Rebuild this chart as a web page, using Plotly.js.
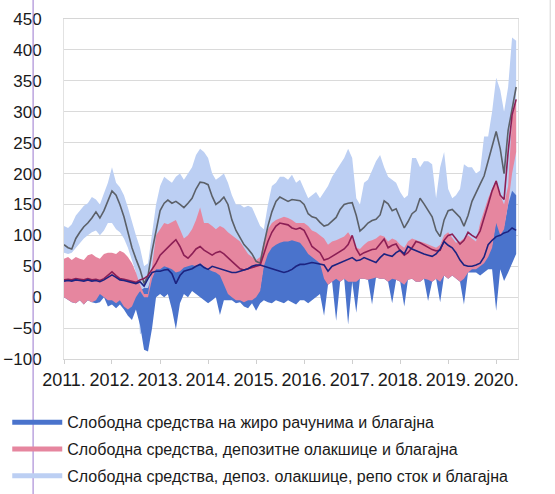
<!DOCTYPE html>
<html>
<head>
<meta charset="utf-8">
<script src="https://cdn.plot.ly/plotly-3.0.1.min.js"></script>
<style>html,body{margin:0;padding:0;background:#fff;}#chart{width:555px;height:494px;}</style>
</head>
<body>
<div id="chart"></div>
<script>
// Monthly observation dates (Jan 2011 – Jun 2020)
const months = [
'2011-01-01','2011-02-01','2011-03-01','2011-04-01','2011-05-01','2011-06-01','2011-07-01','2011-08-01','2011-09-01','2011-10-01','2011-11-01','2011-12-01',
'2012-01-01','2012-02-01','2012-03-01','2012-04-01','2012-05-01','2012-06-01','2012-07-01','2012-08-01','2012-09-01','2012-10-01','2012-11-01','2012-12-01',
'2013-01-01','2013-02-01','2013-03-01','2013-04-01','2013-05-01','2013-06-01','2013-07-01','2013-08-01','2013-09-01','2013-10-01','2013-11-01','2013-12-01',
'2014-01-01','2014-02-01','2014-03-01','2014-04-01','2014-05-01','2014-06-01','2014-07-01','2014-08-01','2014-09-01','2014-10-01','2014-11-01','2014-12-01',
'2015-01-01','2015-02-01','2015-03-01','2015-04-01','2015-05-01','2015-06-01','2015-07-01','2015-08-01','2015-09-01','2015-10-01','2015-11-01','2015-12-01',
'2016-01-01','2016-02-01','2016-03-01','2016-04-01','2016-05-01','2016-06-01','2016-07-01','2016-08-01','2016-09-01','2016-10-01','2016-11-01','2016-12-01',
'2017-01-01','2017-02-01','2017-03-01','2017-04-01','2017-05-01','2017-06-01','2017-07-01','2017-08-01','2017-09-01','2017-10-01','2017-11-01','2017-12-01',
'2018-01-01','2018-02-01','2018-03-01','2018-04-01','2018-05-01','2018-06-01','2018-07-01','2018-08-01','2018-09-01','2018-10-01','2018-11-01','2018-12-01',
'2019-01-01','2019-02-01','2019-03-01','2019-04-01','2019-05-01','2019-06-01','2019-07-01','2019-08-01','2019-09-01','2019-10-01','2019-11-01','2019-12-01',
'2020-01-01','2020-02-01','2020-03-01','2020-04-01','2020-05-01','2020-06-01'];

// Series 3 (free funds, deposit facilities, repo stock and cash) – daily range, upper / lower
const lbHigh = [
115,112,118,132,140,148,152,162,158,150,168,185,
210,185,178,165,145,120,100,80,50,55,105,150,
180,195,190,185,195,200,190,200,210,230,240,235,
225,200,190,195,200,185,165,150,150,145,148,145,
130,115,110,150,180,185,195,195,190,198,185,190,
175,160,165,170,160,170,180,195,205,215,225,240,
225,160,150,185,190,205,220,230,210,195,190,185,
170,160,165,225,225,210,220,220,215,160,210,235,
175,160,165,175,215,210,210,200,205,260,260,300,
355,335,300,340,420,415];
const lbLow = [
72,70,72,80,88,95,100,105,108,100,108,120,
120,110,105,95,80,60,40,-60,-55,-40,0,50,
100,110,110,112,115,100,90,95,105,120,135,115,
115,110,105,110,105,100,95,90,85,75,65,60,
55,60,80,100,110,115,118,120,118,115,110,110,
110,105,98,95,90,85,75,80,82,85,88,95,
85,70,68,75,80,82,85,90,88,80,85,82,
75,70,80,85,82,80,78,75,72,70,75,90,
95,85,78,80,85,90,85,80,110,130,150,165,
180,155,140,140,160,150];

// Series 2 (free funds, deposit facilities and cash) – daily range
const pkHigh = [
62,65,60,65,62,60,68,70,65,62,70,72,
72,70,75,72,65,55,40,20,5,5,50,100,
110,120,118,122,125,110,95,100,110,125,145,120,
120,115,110,115,112,105,100,95,90,80,70,65,
60,65,90,110,120,125,128,130,128,125,120,120,
120,115,108,105,100,95,85,90,92,95,98,105,
95,80,78,85,90,92,95,100,98,90,95,92,
85,80,90,95,92,90,88,85,82,80,85,100,
105,95,88,90,95,100,95,90,120,140,160,175,
190,165,150,180,290,320];
const pkLow = [
0,-5,-8,-10,-5,-12,-5,-8,-5,5,0,-5,
-5,-10,-5,-15,-20,-15,0,10,0,0,30,45,
45,50,48,45,40,42,48,50,52,50,55,50,
45,42,40,35,20,5,0,-5,-5,-8,-5,-5,
0,10,50,70,80,85,88,90,90,92,90,88,
80,70,65,60,55,30,20,25,30,25,30,25,
25,25,30,30,28,30,32,30,30,25,30,28,
25,20,28,30,25,25,30,28,25,30,25,35,
30,35,30,25,30,40,45,45,50,55,65,80,
120,100,110,150,200,235];

// Series 1 (free funds on giro accounts and cash) – daily range
const blHigh = [
5,0,-3,-5,0,-7,0,-3,0,10,5,0,
0,-5,0,-10,-15,-10,5,10,15,15,35,50,
50,55,53,50,45,47,53,55,57,55,60,55,
50,47,45,40,25,10,5,0,0,-3,0,0,
5,15,55,75,85,90,93,95,95,97,95,93,
85,75,70,65,60,35,25,30,35,30,35,30,
30,30,35,35,33,35,37,35,35,30,35,33,
30,25,33,35,30,30,35,33,30,35,30,40,
35,40,35,30,35,45,50,50,55,60,70,85,
125,105,115,150,172,165];
const blLow = [
0,-5,-8,-10,-5,-12,-5,-8,-10,-8,0,-15,
-12,-18,-12,-20,-30,-37,-20,-45,-85,-88,-50,0,
5,0,5,-20,-52,-10,5,0,10,5,0,-5,
-10,-5,0,-29,-5,-5,-5,-10,-8,-15,-18,-10,
-22,-10,-5,-8,-10,-5,-8,-10,-5,-8,-12,-5,
-5,-10,-5,0,5,-30,20,25,-38,25,30,-44,
25,-25,30,30,28,-12,32,30,30,25,-10,28,
25,-15,28,30,25,25,30,-6,25,30,-8,35,
30,35,30,25,-12,40,40,40,35,40,45,45,
-22,45,26,40,55,70];

// Moving averages (thin lines)
const maRepo = [
85,80,78,95,105,114,120,128,138,128,140,155,
172,165,150,130,105,80,62,45,22,35,75,110,
140,152,157,152,155,150,145,152,160,175,186,185,
182,163,150,155,162,150,125,108,95,85,78,70,
58,55,85,115,138,155,162,158,155,158,157,156,
150,135,130,128,121,115,117,123,129,142,150,152,
153,132,107,113,120,124,126,133,156,151,140,143,
126,112,122,135,140,160,151,140,130,108,98,125,
140,142,135,129,115,132,155,170,183,196,220,243,
268,240,200,270,305,340];
const maDepo = [
28,29,28,30,29,28,30,28,29,27,30,35,
41,35,30,29,27,25,24,28,30,35,45,55,
68,75,80,87,93,82,68,63,70,78,82,76,
72,68,72,74,70,63,58,52,46,44,46,47,
50,52,70,90,105,115,120,118,117,112,110,112,
108,95,82,77,72,60,62,66,70,74,78,85,
100,78,68,72,75,77,78,86,94,80,84,86,
75,68,72,80,90,88,84,80,77,75,76,92,
100,102,94,86,92,105,100,96,107,130,150,172,
188,165,158,235,295,320];
const maGiro = [
26,27,26,28,27,26,28,26,27,25,28,32,
36,32,28,27,25,23,22,25,18,30,40,42,
42,44,45,38,22,35,42,44,46,50,53,48,
45,50,48,46,44,42,40,40,42,44,46,50,
52,52,50,48,45,44,42,40,42,45,50,53,
53,54,56,55,53,52,42,50,53,56,59,62,
64,59,60,64,61,58,56,64,70,68,66,72,
76,70,82,78,75,72,70,68,66,70,78,90,
84,80,72,60,52,50,50,52,55,65,85,92,
98,100,104,106,112,108];

const seriesNames = [
  'Слободна средства на жиро рачунима и благајна',
  'Слободна средства, депозитне олакшице и благајна',
  'Слободна средства, депоз. олакшице, репо сток и благајна'
];
const yearTicks = ['2011-01-01','2012-01-01','2013-01-01','2014-01-01','2015-01-01','2016-01-01','2017-01-01','2018-01-01','2019-01-01','2020-01-01'];
const yearLabels = ['2011.','2012.','2013.','2014.','2015.','2016.','2017.','2018.','2019.','2020.'];

const cBlue = '#4a73cc', cPink = '#e6869f', cLight = '#bccff3';
const cNavy = '#1c2380', cMaroon = '#8c1f55', cGray = '#5b6068';

function band(lo, hi, color) {
  return [
    {x: months, y: lo, type: 'scatter', mode: 'lines', line: {width: 0, color: color}, showlegend: false, hoverinfo: 'skip'},
    {x: months, y: hi, type: 'scatter', mode: 'lines', line: {width: 0, color: color}, fill: 'tonexty', fillcolor: color, showlegend: false, hoverinfo: 'skip'}
  ];
}
function ma(y, color) {
  return {x: months, y: y, type: 'scatter', mode: 'lines', line: {width: 1.6, color: color}, showlegend: false, hoverinfo: 'skip'};
}
function legendOnly(name, color, g) {
  return {x: [null], y: [null], type: 'scatter', mode: 'lines', name: name, legendgroup: g, line: {width: 5, color: color}};
}

const data = [].concat(
  band(lbLow, lbHigh, cLight),
  band(blLow, blHigh, cBlue),
  band(pkLow, pkHigh, cPink),
  [ma(maRepo, cGray), ma(maDepo, cMaroon), ma(maGiro, cNavy)],
  [legendOnly(seriesNames[0], cBlue, 'a'), legendOnly(seriesNames[1], cPink, 'b'), legendOnly(seriesNames[2], cLight, 'c')]
);

const font = 'Liberation Sans, Arial, sans-serif';
const layout = {
  width: 555, height: 494,
  margin: {l: 64, r: 37, t: 19, b: 135, autoexpand: false},
  paper_bgcolor: '#ffffff', plot_bgcolor: '#ffffff',
  font: {family: font, color: '#1a1a1a'},
  xaxis: {
    type: 'date', range: ['2011-01-01', '2020-06-15'],
    tickmode: 'array', tickvals: yearTicks, ticktext: yearLabels,
    tickfont: {size: 18, family: font, color: '#1a1a1a'},
    ticks: 'outside', ticklen: 4, tickcolor: '#cfcfcf',
    showgrid: false, showline: true, linecolor: '#d6d6d6', mirror: true,
    ticklabelstandoff: 0, fixedrange: true, automargin: false
  },
  yaxis: {
    range: [-100, 450], tickmode: 'linear', tick0: -100, dtick: 50,
    tickfont: {size: 17, family: font, color: '#1a1a1a'},
    showgrid: true, gridcolor: '#dadada', gridwidth: 1,
    zeroline: false, showline: true, linecolor: '#e2e2e2', mirror: true,
    ticks: '', ticklabelstandoff: 18, fixedrange: true, automargin: false
  },
  showlegend: true,
  legend: {
    orientation: 'v', x: -0.125, xanchor: 'left', y: -0.136, yanchor: 'top',
    font: {size: 16, family: font, color: '#1a1a1a'},
    itemwidth: 50, tracegroupgap: 3, traceorder: 'grouped',
    bgcolor: 'rgba(0,0,0,0)'
  },
  shapes: [
    {type: 'line', xref: 'paper', yref: 'paper', x0: -0.068, x1: -0.068, y0: -0.4, y1: 1.06,
     line: {color: 'rgba(150,115,205,0.65)', width: 1.5}},
    {type: 'line', xref: 'paper', yref: 'paper', x0: 1.071, x1: 1.071, y0: 0.35, y1: 1.06,
     line: {color: 'rgba(170,170,170,0.5)', width: 1}}
  ]
};

Plotly.newPlot('chart', data, layout, {displayModeBar: false, staticPlot: true});
</script>
</body>
</html>
